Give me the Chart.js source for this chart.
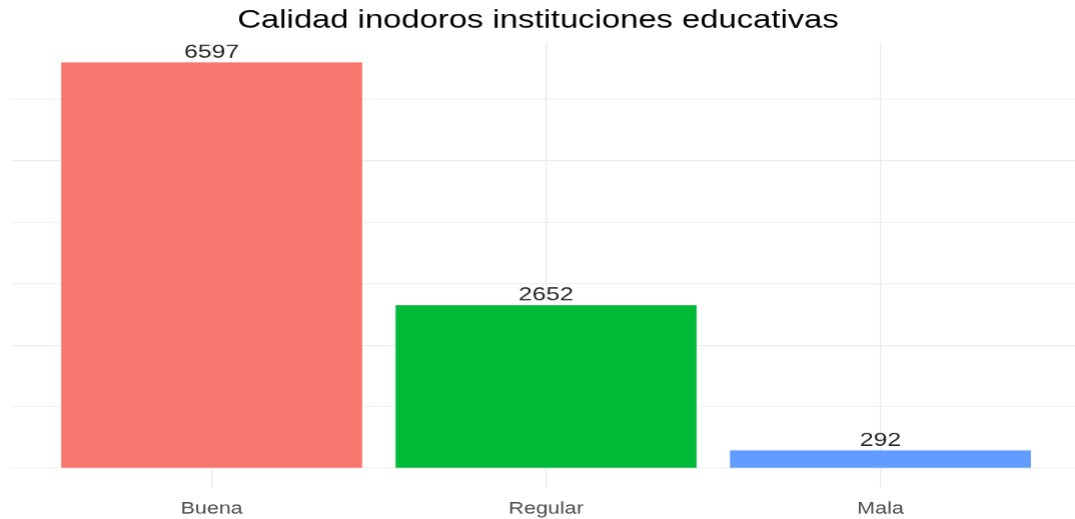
<!DOCTYPE html>
<html>
<head>
<meta charset="utf-8">
<script src="https://cdn.jsdelivr.net/npm/chart.js@4.4.1/dist/chart.umd.min.js"></script>
<style>
  html, body { margin: 0; padding: 0; overflow: hidden; background: #fff; }
  canvas { display: block; }
</style>
</head>
<body>
<!-- the plot is laid out at 839px and widened to the page by css -->
<canvas id="myChart" width="839" height="519" style="width:1090.7px;height:519px"></canvas>
<script>
var categories = ['Buena', 'Regular', 'Mala'];
var counts = [6597, 2652, 292];
var barColors = ['#F8766D', '#00BA38', '#619CFF'];
var yGrid = [0, 1000, 2000, 3000, 4000, 5000, 6000];
var chartTitle = 'Calidad inodoros instituciones educativas';

Chart.defaults.font.family = "'Liberation Sans', Arial, sans-serif";

// ggplot style expansion of the value axis
var yMax = Math.max.apply(null, counts);
var yLo = -0.05 * yMax;
var yHi = 1.05 * yMax;

var points = counts.map(function (v, i) { return { x: i + 1, y: v }; });

var titlePlugin = {
    id: 'plotTitle',
    afterDraw: function (chart) {
        var ctx = chart.ctx;
        ctx.save();
        ctx.font = "25.2px 'Liberation Sans', Arial, sans-serif";
        ctx.fillStyle = '#000';
        ctx.textAlign = 'center';
        ctx.textBaseline = 'alphabetic';
        ctx.fillText(chartTitle, 413.5, 27.5);
        ctx.restore();
    }
};

var valuePlugin = {
    id: 'barValues',
    afterDatasetsDraw: function (chart) {
        var ctx = chart.ctx;
        var meta = chart.getDatasetMeta(0);
        ctx.save();
        ctx.font = "19px 'Liberation Sans', Arial, sans-serif";
        ctx.fillStyle = '#262626';
        ctx.textAlign = 'center';
        ctx.textBaseline = 'alphabetic';
        meta.data.forEach(function (bar, i) {
            ctx.fillText(String(counts[i]), bar.x, bar.y - 4.5);
        });
        ctx.restore();
    }
};

var ctx = document.getElementById('myChart');
var myChart = new Chart(ctx, {
    type: 'bar',
    data: {
        datasets: [{
            data: points,
            backgroundColor: barColors,
            borderWidth: 0,
            barPercentage: 0.9,
            categoryPercentage: 1.0
        }]
    },
    plugins: [titlePlugin, valuePlugin],
    options: {
        responsive: false,
        devicePixelRatio: 1.3,
        animation: false,
        layout: {
            padding: { top: 42, left: 8.5, right: 8.2, bottom: 0 }
        },
        plugins: {
            legend: { display: false },
            tooltip: { enabled: false },
            title: { display: false }
        },
        scales: {
            x: {
                type: 'linear',
                min: 0.4,
                max: 3.6,
                offset: false,
                afterBuildTicks: function (axis) {
                    axis.ticks = categories.map(function (c, i) { return { value: i + 1 }; });
                },
                afterFit: function (axis) { axis.height = 31; },
                ticks: {
                    padding: 11,
                    color: '#4D4D4D',
                    font: { size: 16.5 },
                    maxRotation: 0,
                    callback: function (value) { return categories[value - 1]; }
                },
                grid: { color: '#EBEBEB', lineWidth: 1, drawTicks: false, offset: false },
                border: { display: false }
            },
            y: {
                min: yLo,
                max: yHi,
                afterBuildTicks: function (axis) {
                    axis.ticks = yGrid.map(function (v) { return { value: v }; });
                },
                afterFit: function (axis) { axis.width = 0; },
                ticks: { display: false },
                grid: { color: '#EBEBEB', lineWidth: 1, drawTicks: false },
                border: { display: false }
            }
        }
    }
});
</script>
</body>
</html>
